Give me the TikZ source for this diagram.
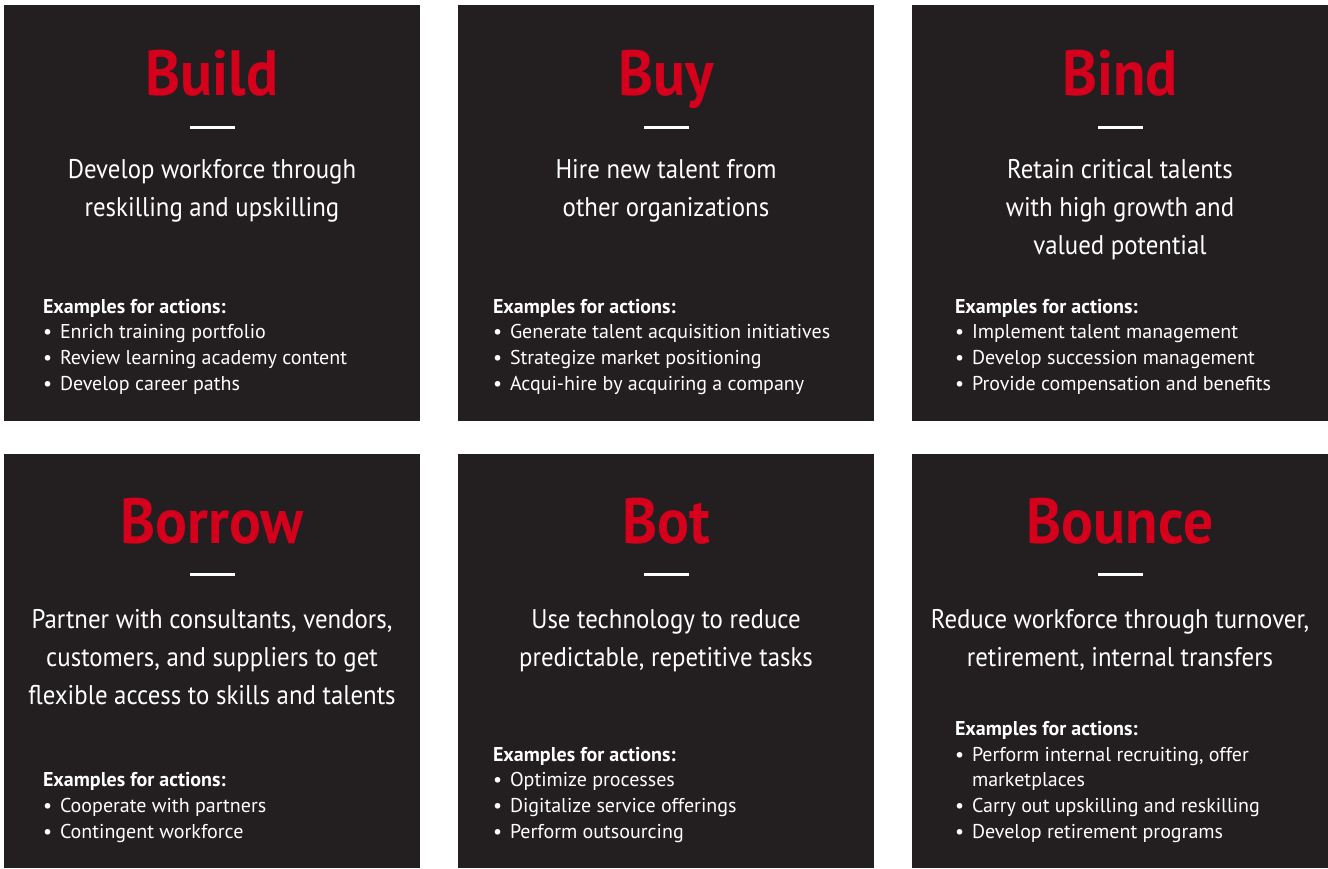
\documentclass[tikz,border=0pt]{standalone}
\usepackage{fontspec}
\setmainfont{PT Sans}
\newfontfamily\headfont[FakeStretch=0.93]{PT Sans}
\newfontfamily\claimfont[FakeStretch=0.92]{PT Sans}
\usetikzlibrary{positioning, calc}
\definecolor{cardgray}{RGB}{35, 31, 32}
\definecolor{porschered}{RGB}{213, 0, 28}
\newcommand{\itm}{\makebox[17pt][l]{\textbullet}}

\begin{document}
\begin{tikzpicture}[
  x=1pt, y=1pt,
  card/.style={rectangle, fill=cardgray, minimum width=416pt, minimum height=416pt, inner sep=0pt},
  cardlow/.style={card, minimum height=414pt},
  headline/.style={font=\headfont\fontsize{64}{64}\selectfont\bfseries, text=porschered, anchor=base, inner sep=0pt},
  bar/.style={fill=white, minimum width=45pt, minimum height=3pt, inner sep=0pt},
  claim/.style={font=\claimfont\fontsize{27}{38}\selectfont, text=white, align=center, anchor=base, inner sep=0pt},
  actions/.style={font=\fontsize{20}{25.7}\selectfont, text=white, align=left, anchor=base west, inner sep=0pt}
]
\useasboundingbox (0,0) rectangle (1328,-868);

% Cards
\node[card] (build) at (212,-213) {};
\node[card] (buy) at (666,-213) {};
\node[card] (bind) at (1120,-213) {};
\node[cardlow] (borrow) at (212,-661) {};
\node[cardlow] (bot) at (666,-661) {};
\node[cardlow] (bounce) at (1120,-661) {};

% Build
\node[headline] (buildT) at ($(build.north)+(0,-91)$) {Build};
\node[bar] (buildB) at ($(build.north)+(0,-122.5)$) {};
\node[claim] (buildC) at ($(build.north)+(0,-212)$) {Develop workforce through\\reskilling and upskilling};
\node[actions] (buildA) at ($(build.south west)+(39,31)$) {\textbf{Examples for actions:}\\
  \itm Enrich training portfolio\\
  \itm Review learning academy content\\
  \itm Develop career paths};

% Buy
\node[headline] (buyT) at ($(buy.north)+(0,-91)$) {Buy};
\node[bar] (buyB) at ($(buy.north)+(0,-122.5)$) {};
\node[claim] (buyC) at ($(buy.north)+(0,-212)$) {Hire new talent from\\other organizations};
\node[actions] (buyA) at ($(buy.south west)+(35,31)$) {\textbf{Examples for actions:}\\
  \itm Generate talent acquisition initiatives\\
  \itm Strategize market positioning\\
  \itm Acqui-hire by acquiring a company};

% Bind
\node[headline] (bindT) at ($(bind.north)+(0,-91)$) {Bind};
\node[bar] (bindB) at ($(bind.north)+(0,-122.5)$) {};
\node[claim] (bindC) at ($(bind.north)+(0,-250)$) {Retain critical talents\\with high growth and\\valued potential};
\node[actions] (bindA) at ($(bind.south west)+(43,31)$) {\textbf{Examples for actions:}\\
  \itm Implement talent management\\
  \itm Develop succession management\\
  \itm Provide compensation and benefits};

% Borrow
\node[headline] (borrowT) at ($(borrow.north)+(0,-89.5)$) {Borrow};
\node[bar] (borrowB) at ($(borrow.north)+(0,-120.5)$) {};
\node[claim] (borrowC) at ($(borrow.north)+(0,-251)$) {Partner with consultants, vendors,\\customers, and suppliers to get\\flexible access to skills and talents};
\node[actions] (borrowA) at ($(borrow.south west)+(39,30)$) {\textbf{Examples for actions:}\\
  \itm Cooperate with partners\\
  \itm Contingent workforce};

% Bot
\node[headline] (botT) at ($(bot.north)+(0,-89.5)$) {Bot};
\node[bar] (botB) at ($(bot.north)+(0,-120.5)$) {};
\node[claim] (botC) at ($(bot.north)+(0,-213)$) {Use technology to reduce\\predictable, repetitive tasks};
\node[actions] (botA) at ($(bot.south west)+(35,30)$) {\textbf{Examples for actions:}\\
  \itm Optimize processes\\
  \itm Digitalize service offerings\\
  \itm Perform outsourcing};

% Bounce
\node[headline] (bounceT) at ($(bounce.north)+(0,-89.5)$) {Bounce};
\node[bar] (bounceB) at ($(bounce.north)+(0,-120.5)$) {};
\node[claim] (bounceC) at ($(bounce.north)+(0,-213)$) {Reduce workforce through turnover,\\retirement, internal transfers};
\node[actions] (bounceA) at ($(bounce.south west)+(43,30)$) {\textbf{Examples for actions:}\\
  \itm Perform internal recruiting, offer\\
  \hspace*{17pt}marketplaces\\
  \itm Carry out upskilling and reskilling\\
  \itm Develop retirement programs};

\end{tikzpicture}
\end{document}
